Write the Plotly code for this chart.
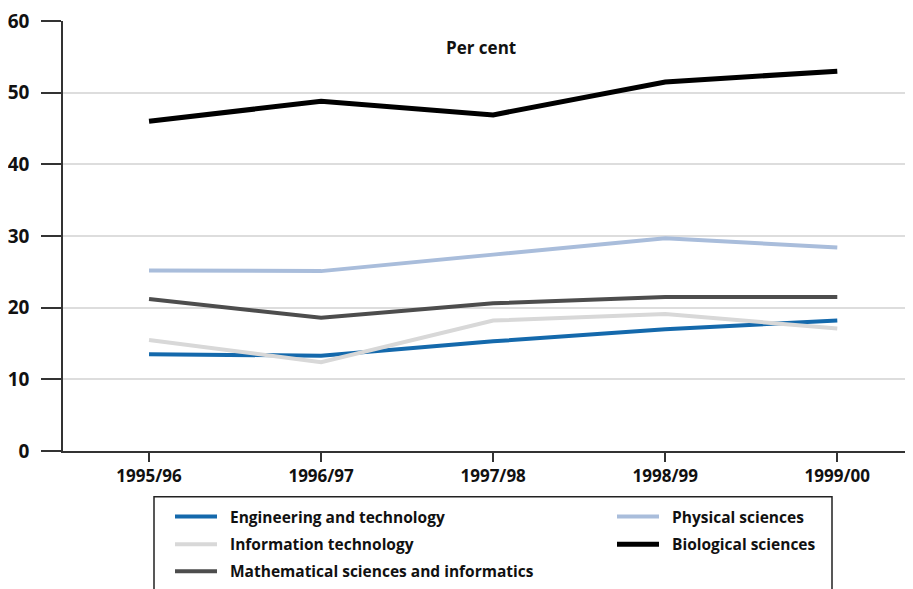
import plotly.graph_objects as go

years = ["1995/96", "1996/97", "1997/98", "1998/99", "1999/00"]

engineering = [13.5, 13.3, 15.3, 17.0, 18.2]
physical = [25.2, 25.1, 27.4, 29.7, 28.4]
info_tech = [15.5, 12.4, 18.2, 19.1, 17.1]
biological = [46.0, 48.8, 46.9, 51.5, 53.0]
mathematical = [21.2, 18.6, 20.6, 21.5, 21.5]

y_ticks = [0, 10, 20, 30, 40, 50, 60]

series = [
    ("Engineering and technology", engineering, "#1469ac", 4),
    ("Physical sciences", physical, "#a9bddb", 4),
    ("Information technology", info_tech, "#d8d8d8", 4),
    ("Biological sciences", biological, "#000000", 5),
    ("Mathematical sciences and informatics", mathematical, "#4d4d4d", 4),
]

FONT = "Open Sans"

# page body has an 8px margin; size the figure so it fills the window
OFF = 8
W, H = 913 - OFF, 589 - OFF
ML, MR, MT = 63 - OFF, 0, 18 - OFF
PW, PH = W - ML - MR, 433
MB = H - MT - PH


def px_x(p):
    return (p - OFF - ML) / PW


def px_y(p):
    return (MT + PH - (p - OFF)) / PH


fig = go.Figure()
for name, vals, color, w in series:
    fig.add_trace(go.Scatter(
        x=years, y=vals, name=name, mode="lines",
        line=dict(color=color, width=w),
        showlegend=False,
    ))

# legend: two columns, row-major, drawn in a bordered box
col_x = [175, 617]
row_y = [517, 545, 572]
shapes = [dict(
    type="rect", xref="paper", yref="paper",
    x0=px_x(154), x1=px_x(832), y0=px_y(497), y1=px_y(610),
    line=dict(color="#222222", width=1.5),
    fillcolor="rgba(0,0,0,0)", layer="below",
)]
annotations = [dict(
    text="<b>Per cent</b>", x=px_x(481), y=px_y(45), xref="paper", yref="paper",
    showarrow=False, xanchor="center", yanchor="middle",
    font=dict(family=FONT, size=17, color="#111111"),
)]
for i, (name, vals, color, w) in enumerate(series):
    cx = col_x[i % 2]
    ry = row_y[i // 2]
    shapes.append(dict(
        type="line", xref="paper", yref="paper",
        x0=px_x(cx), x1=px_x(cx + 42), y0=px_y(ry), y1=px_y(ry),
        line=dict(color=color, width=w),
    ))
    annotations.append(dict(
        text="<b>" + name + "</b>", x=px_x(cx + 53), y=px_y(ry),
        xref="paper", yref="paper", showarrow=False,
        xanchor="left", yanchor="middle",
        font=dict(family=FONT, size=15.5, color="#111111"),
    ))

fig.update_layout(
    width=W, height=H,
    margin=dict(l=ML, r=MR, t=MT, b=MB),
    paper_bgcolor="white", plot_bgcolor="white",
    font=dict(family=FONT, color="#111111"),
    showlegend=False,
    xaxis=dict(
        type="category",
        range=[-0.5, 4.44],
        tickvals=years,
        ticktext=["<b>" + y + "</b>" for y in years],
        showgrid=False,
        showline=True, linecolor="#333333", linewidth=1.5,
        ticks="outside", ticklen=9, tickcolor="#333333", tickwidth=1.5,
        tickfont=dict(family=FONT, size=17, color="#111111"),
        zeroline=False,
    ),
    yaxis=dict(
        range=[0, 60],
        tickvals=y_ticks,
        ticktext=["<b>%d</b>" % v for v in y_ticks],
        showgrid=True, gridcolor="#dddddd", gridwidth=1.5,
        showline=True, linecolor="#333333", linewidth=1.5,
        ticks="outside", ticklen=20, tickcolor="#333333", tickwidth=1.5,
        ticklabelstandoff=8,
        ticklabeloverflow="allow",
        tickfont=dict(family=FONT, size=19, color="#111111"),
        zeroline=False,
    ),
    annotations=annotations,
    shapes=shapes,
)

fig.write_html("out.html")
